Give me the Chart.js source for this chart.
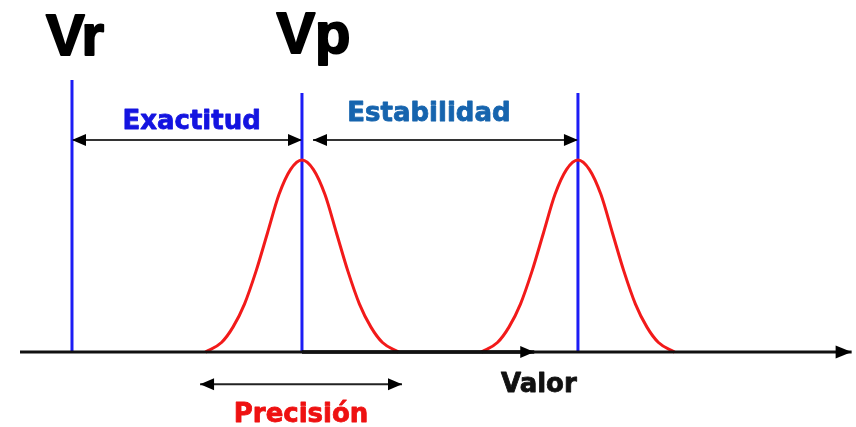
<!DOCTYPE html>
<html>
<head>
<meta charset="utf-8">
<script src="https://cdn.jsdelivr.net/npm/chart.js@4/dist/chart.umd.min.js"></script>
<style>
  html, body { margin: 0; padding: 0; background: #ffffff; }
  #wrap { width: 856px; height: 427px; position: relative; }
</style>
</head>
<body>
<div id="wrap"><canvas id="c" width="856" height="427"></canvas></div>
<script>
// ---- data (value axis units: Vr = 0, Vp = 10) ----
const trueValue = 0;          // Vr
const measuredValue = 10;     // Vp (first distribution)
const driftedValue = 22;      // later distribution (estabilidad)
const curveOffsets = [-4.2, -3.5, -3, -2.5, -2, -1.5, -1, -0.5, 0, 0.5, 1, 1.5, 2, 2.5, 3, 3.5, 4.2];
const curveValues  = [0, 0.05, 0.13, 0.25, 0.42, 0.62, 0.82, 0.95, 1, 0.95, 0.82, 0.62, 0.42, 0.25, 0.13, 0.05, 0];
const lineTops = [1.417, 1.349, 1.349];      // heights of Vr, Vp and drift markers
const axisRange = [-2.26, 33.9];
const axisArrow2 = [10, 20.1];
const exactitudRange = [0, 10];
const estabilidadRange = [10.48, 22];
const precisionRange = [5.57, 14.35];
const labels = ['Vr', 'Vp', 'Exactitud', 'Estabilidad', 'Precisión', 'Valor'];

const toPts = (center) => curveOffsets.map((d, i) => ({ x: center + d, y: curveValues[i] }));
const vline = (x, top) => [{ x: x, y: 0 }, { x: x, y: top }];
const hline = (r, y) => [{ x: r[0], y: y }, { x: r[1], y: y }];

const BLUE = '#1c1cf5';
const RED = '#f21a1a';

const datasets = [
  { data: hline(axisRange, 0), borderColor: '#111', borderWidth: 3, arrowEnd: true, head: [16, 13] },
  { data: hline(axisArrow2, 0), borderColor: '#000', borderWidth: 3.5, arrowEnd: true, head: [14, 12] },
  { data: toPts(measuredValue), borderColor: RED, borderWidth: 3, tension: 0.4, cubicInterpolationMode: 'monotone' },
  { data: toPts(driftedValue), borderColor: RED, borderWidth: 3, tension: 0.4, cubicInterpolationMode: 'monotone' },
  { data: vline(trueValue, lineTops[0]), borderColor: BLUE, borderWidth: 3 },
  { data: vline(measuredValue, lineTops[1]), borderColor: BLUE, borderWidth: 3 },
  { data: vline(driftedValue, lineTops[2]), borderColor: BLUE, borderWidth: 3 },
  { data: hline(exactitudRange, 1.104), borderColor: '#333', borderWidth: 2, arrowStart: true, arrowEnd: true, head: [14, 12] },
  { data: hline(estabilidadRange, 1.104), borderColor: '#333', borderWidth: 2, arrowStart: true, arrowEnd: true, head: [14, 12] },
  { data: hline(precisionRange, -0.167), borderColor: '#222', borderWidth: 2, arrowStart: true, arrowEnd: true, head: [14, 12] }
];
datasets.forEach(d => { d.pointRadius = 0; d.fill = false; d.borderCapStyle = 'butt'; });

const arrowPlugin = {
  id: 'arrows',
  afterDatasetsDraw(chart) {
    const ctx = chart.ctx;
    chart.data.datasets.forEach((ds, i) => {
      if (!ds.arrowStart && !ds.arrowEnd) return;
      const pts = chart.getDatasetMeta(i).data;
      const a = pts[0], b = pts[pts.length - 1];
      const [len, wid] = ds.head;
      const drawHead = (tip, from) => {
        const ang = Math.atan2(tip.y - from.y, tip.x - from.x);
        ctx.save();
        ctx.translate(tip.x, tip.y);
        ctx.rotate(ang);
        ctx.beginPath();
        ctx.moveTo(0, 0);
        ctx.lineTo(-len, -wid / 2);
        ctx.lineTo(-len, wid / 2);
        ctx.closePath();
        ctx.fillStyle = '#000';
        ctx.fill();
        ctx.restore();
      };
      if (ds.arrowEnd) drawHead(b, a);
      if (ds.arrowStart) drawHead(a, b);
    });
  }
};

const textItems = [
  { text: labels[0], x: 0.13, y: 1.547, font: 'bold 58px "Liberation Sans"', color: '#000', stroke: 2 },
  { text: labels[1], x: 10.5, y: 1.557, font: 'bold 58px "Liberation Sans"', color: '#000', stroke: 2 },
  { text: labels[2], x: 5.2, y: 1.161, font: 'bold 26px "DejaVu Sans"', color: '#1414e0', stroke: 0.8 },
  { text: labels[3], x: 15.52, y: 1.203, font: 'bold 26px "DejaVu Sans"', color: '#1664ae', stroke: 0.8 },
  { text: labels[4], x: 9.96, y: -0.365, font: 'bold 26px "DejaVu Sans"', color: '#ee1111', stroke: 0.8 },
  { text: labels[5], x: 20.3, y: -0.206, font: 'bold 26px "DejaVu Sans"', color: '#111', stroke: 0.8 }
];

const textPlugin = {
  id: 'texts',
  afterDraw(chart) {
    const ctx = chart.ctx;
    const xs = chart.scales.x, ys = chart.scales.y;
    ctx.save();
    ctx.textAlign = 'center';
    ctx.textBaseline = 'alphabetic';
    ctx.lineJoin = 'round';
    textItems.forEach(t => {
      const px = xs.getPixelForValue(t.x), py = ys.getPixelForValue(t.y);
      ctx.font = t.font;
      ctx.fillStyle = t.color;
      ctx.strokeStyle = t.color;
      ctx.lineWidth = t.stroke;
      ctx.fillText(t.text, px, py);
      ctx.strokeText(t.text, px, py);
    });
    ctx.restore();
  }
};

new Chart(document.getElementById('c'), {
  type: 'line',
  data: { datasets: datasets },
  options: {
    responsive: false,
    animation: false,
    parsing: true,
    layout: { padding: 0 },
    plugins: { legend: { display: false }, tooltip: { enabled: false } },
    scales: {
      x: { type: 'linear', min: -3.13, max: 34.09, display: false },
      y: { type: 'linear', min: -0.39, max: 1.833, display: false }
    },
    elements: { line: { borderJoinStyle: 'round' } }
  },
  plugins: [arrowPlugin, textPlugin]
});
</script>
</body>
</html>
